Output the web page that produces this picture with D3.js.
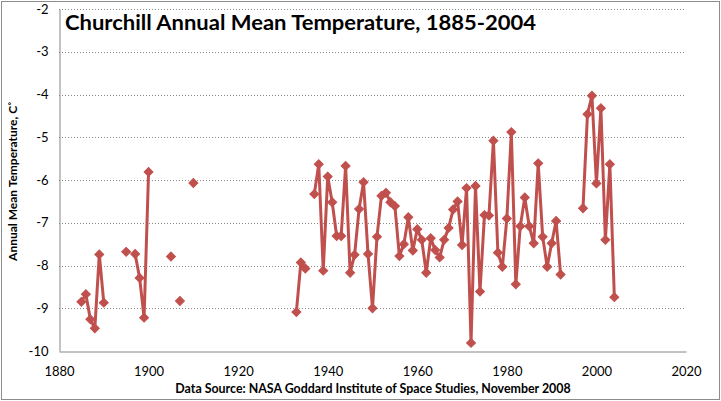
<!DOCTYPE html>
<html>
<head>
<meta charset="utf-8">
<script src="https://cdn.jsdelivr.net/npm/d3@7"></script>
<style>
  html, body { margin: 0; padding: 0; background: #fff; }
  svg { display: block; }
  text { font-family: Lato, "Open Sans", sans-serif; }
</style>
</head>
<body>
<svg id="chart" width="721" height="401"></svg>
<script>
const years = [1885,1886,1887,1888,1889,1890,
  1895,
  1897,1898,1899,1900,
  1905,
  1907,
  1910,
  1933,1934,1935,
  1937,1938,1939,1940,1941,1942,1943,1944,1945,1946,1947,1948,1949,1950,
  1951,1952,1953,1954,1955,1956,1957,1958,1959,1960,1961,1962,1963,1964,1965,
  1966,1967,1968,1969,1970,1971,1972,1973,1974,1975,1976,1977,1978,1979,1980,
  1981,1982,1983,1984,1985,1986,1987,1988,1989,1990,1991,1992,
  1997,1998,1999,2000,2001,2002,2003,2004];
const temps = [-8.85,-8.67,-9.26,-9.47,-7.74,-8.87,
  -7.68,
  -7.73,-8.29,-9.22,-5.81,
  -7.79,
  -8.83,
  -6.07,
  -9.09,-7.93,-8.07,
  -6.33,-5.63,-8.12,-5.92,-6.52,-7.31,-7.31,-5.67,-8.17,-7.75,-6.68,-6.05,-7.73,-9.00,
  -7.33,-6.37,-6.30,-6.52,-6.61,-7.78,-7.50,-6.87,-7.65,-7.15,-7.40,-8.17,-7.36,-7.64,-7.81,
  -7.40,-7.12,-6.69,-6.50,-7.52,-6.19,-9.81,-6.14,-8.61,-6.82,-6.83,-5.08,-7.70,-8.03,-6.90,
  -4.88,-8.44,-7.08,-6.41,-7.08,-7.48,-5.61,-7.33,-8.03,-7.48,-6.96,-8.21,
  -6.66,-4.46,-4.03,-6.08,-4.32,-7.40,-5.63,-8.74];
const xTicks = [1880,1900,1920,1940,1960,1980,2000,2020];
const yTicks = [-10,-9,-8,-7,-6,-5,-4,-3,-2];
const titleText = "Churchill Annual Mean Temperature, 1885-2004";
const yTitle = "Annual Mean Temperature, C\u02DA";
const sourceText = "Data Source: NASA Goddard Institute of Space Studies, November 2008";

const svg = d3.select("#chart");
const W = 721, H = 401;
const L = 59, R = 686, T = 9, B = 351;
const color = "#C0504D";

// outer border
svg.append("rect").attr("x", 1.5).attr("y", 1.5).attr("width", W - 3).attr("height", H - 3)
  .attr("fill", "#fff").attr("stroke", "#8c8c8c").attr("stroke-width", 1);

const x = d3.scaleLinear().domain([1880, 2020]).range([L, R]);
const y = d3.scaleLinear().domain([-10, -2]).range([B, T]);

// gridlines
svg.append("g").selectAll("line").data(yTicks.filter(v => v > -10)).join("line")
  .attr("x1", L).attr("x2", R)
  .attr("y1", d => Math.round(y(d)) + 0.5).attr("y2", d => Math.round(y(d)) + 0.5)
  .attr("stroke", "#8a8a8a").attr("stroke-width", 1).attr("stroke-dasharray", "1,2");

// axes
const yAxis = d3.axisLeft(y).tickValues(yTicks).tickSize(0).tickPadding(11).tickFormat(d => String(d));
const gy = svg.append("g").attr("transform", `translate(${L + 0.5},0)`).call(yAxis);
gy.select(".domain").attr("stroke", "#868686");
gy.selectAll("text").attr("font-size", 13).attr("fill", "#000")
  .style("font-family", "Lato, 'Open Sans', sans-serif");

const xAxis = d3.axisBottom(x).tickValues(xTicks).tickSize(0).tickPadding(15).tickFormat(d => String(d));
const gx = svg.append("g").attr("transform", `translate(0,${B + 0.5})`).call(xAxis);
gx.select(".domain").attr("stroke", "#868686");
gx.selectAll("text").attr("font-size", 13).attr("fill", "#000")
  .style("font-family", "Lato, 'Open Sans', sans-serif");

// data segments (break where years are not consecutive)
const pts = years.map((yr, i) => ({ yr, v: temps[i] }));
const segments = [];
pts.forEach((p, i) => {
  if (i === 0 || p.yr - pts[i - 1].yr > 1) segments.push([p]);
  else segments[segments.length - 1].push(p);
});
const line = d3.line().x(d => x(d.yr)).y(d => y(d.v));
svg.append("g").selectAll("path").data(segments.filter(s => s.length > 1)).join("path")
  .attr("d", line).attr("fill", "none").attr("stroke", color)
  .attr("stroke-width", 3).attr("stroke-linejoin", "round");

const sym = d3.symbol().type(d3.symbolSquare).size(40);
svg.append("g").selectAll("path").data(pts).join("path")
  .attr("d", sym)
  .attr("transform", d => `translate(${x(d.yr)},${y(d.v)}) rotate(45)`)
  .attr("fill", color).attr("stroke", color).attr("stroke-width", 1);

// title
svg.append("text").attr("x", 65).attr("y", 29.5)
  .attr("font-size", 21).attr("font-weight", "bold").attr("fill", "#000")
  .attr("textLength", 471).attr("lengthAdjust", "spacingAndGlyphs")
  .text(titleText);

// y title
svg.append("text").attr("transform", `translate(17,181) rotate(-90)`)
  .attr("text-anchor", "middle").attr("font-size", 12).attr("font-weight", "bold")
  .attr("fill", "#000").text(yTitle);

// source
svg.append("text").attr("x", 373).attr("y", 393).attr("text-anchor", "middle")
  .attr("font-size", 12.4).attr("font-weight", "bold").attr("fill", "#000")
  .text(sourceText);
</script>
</body>
</html>
